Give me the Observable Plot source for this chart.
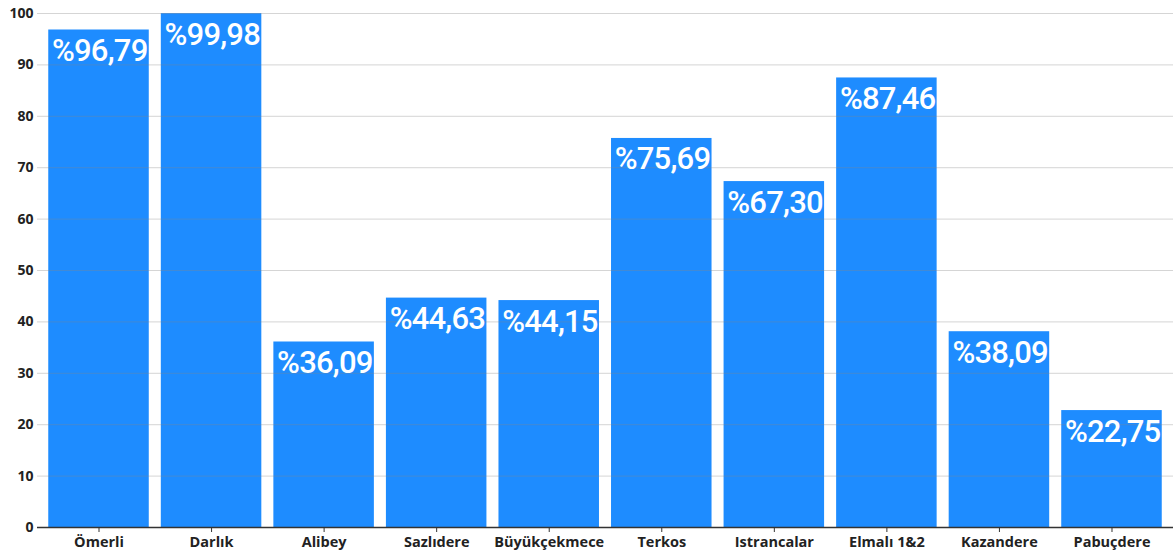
<!DOCTYPE html>
<html><head><meta charset="utf-8">
<script src="https://cdn.jsdelivr.net/npm/d3@7"></script>
<script src="https://cdn.jsdelivr.net/npm/@observablehq/plot@0.6"></script>
<style>
html,body{margin:0;padding:0;background:#fff;}
#chart svg{display:block;}
</style>
</head><body><div id="chart"></div>
<script>
const dams = ["Ömerli","Darlık","Alibey","Sazlıdere","Büyükçekmece","Terkos","Istrancalar","Elmalı 1&2","Kazandere","Pabuçdere"];
const levels = [96.79, 99.98, 36.09, 44.63, 44.15, 75.69, 67.30, 87.46, 38.09, 22.75];
const labels = ["%96,79","%99,98","%36,09","%44,63","%44,15","%75,69","%67,30","%87,46","%38,09","%22,75"];
const yTicks = [0,10,20,30,40,50,60,70,80,90,100];

const data = dams.map((d,i)=>({dam:d, value:levels[i], label:labels[i]}));

const chart = Plot.plot({
  width: 1173,
  height: 556,
  marginLeft: 37,
  marginRight: 0,
  marginTop: 13,
  marginBottom: 29,
  style: {fontFamily: "'Open Sans', sans-serif", background: "#fff"},
  x: {domain: dams, paddingInner: 0.107, paddingOuter: 0.1, round: false, label: null},
  y: {domain: [0,100], label: null},
  marks: [
    Plot.barY(data, {x:"dam", y:"value", fill:"#1E8CFF"}),
    Plot.gridY(yTicks, {stroke:"#888", strokeOpacity:0.35}),
    Plot.text(data, {x:"dam", y:"value", text:"label", textAnchor:"start", lineAnchor:"top", dx:-47, dy:9,
      fill:"#fff", fontSize:31, fontWeight:500, fontFamily:"Roboto, sans-serif"}),
    Plot.ruleY([0], {stroke:"#333", strokeWidth:1.5}),
    Plot.axisX({tickSize:5, tickPadding:4, fontSize:14.5, fontWeight:"bold", color:"#222", stroke:"#333"}),
    Plot.axisY(yTicks, {tickSize:0, tickPadding:4, fontSize:14, fontWeight:"bold", color:"#222"})
  ]
});
document.getElementById("chart").appendChild(chart);
chart.querySelectorAll("text").forEach(t => {
  if (t.textContent.startsWith("%")) t.setAttribute("letter-spacing", "-0.8");
});
</script>
</body></html>
